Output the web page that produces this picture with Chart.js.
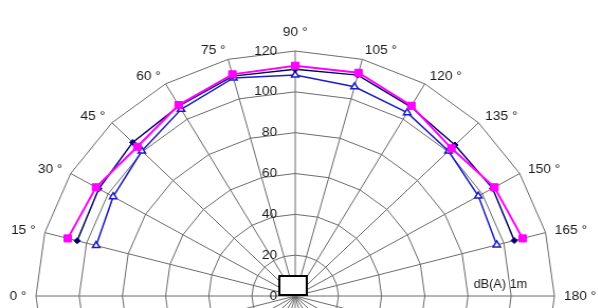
<!DOCTYPE html>
<html>
<head>
<meta charset="utf-8">
<script src="https://cdn.jsdelivr.net/npm/chart.js@4/dist/chart.umd.min.js"></script>
<style>
  html, body { margin: 0; padding: 0; background: #fff; overflow: hidden; width: 598px; height: 308px; }
  #wrap { position: absolute; left: 0; top: 0; transform: scaleX(1.058); transform-origin: 0 0; }
  #polar { position: absolute; left: 0; top: 0; }
</style>
</head>
<body>
<div id="wrap"><canvas id="polar" width="610" height="610"></canvas></div>
<script>
// angles of the spokes, every 15 degrees round the full circle
const angleLabels = ["0 °", "15 °", "30 °", "45 °", "60 °", "75 °", "90 °", "105 °", "120 °", "135 °", "150 °", "165 °",
    "180 °", "195 °", "210 °", "225 °", "240 °", "255 °", "270 °", "285 °", "300 °", "315 °", "330 °", "345 °"];
// measured angles 15..165
const measuredAngles = [15, 30, 45, 60, 75, 90, 105, 120, 135, 150, 165];
const magentaValues = [109, 106.5, 103.4, 108, 112.4, 112.8, 113.2, 107.6, 102.3, 106.5, 109];
const navyValues = [104.5, 105, 106.4, 107.5, 111.5, 111, 112, 107, 104.6, 105.5, 105];
const blueValues = [95.4, 97.3, 100.4, 105.6, 110.6, 108.2, 106.1, 103.7, 100.4, 97.9, 96.6];
const tickValues = [0, 20, 40, 60, 80, 100, 120];
const unitText = "dB(A) 1m";

// spread the measured values over the 24 spokes, gaps elsewhere
function toSpokes(values) {
    const out = angleLabels.map(() => null);
    measuredAngles.forEach((a, i) => { out[a / 15] = values[i]; });
    return out;
}

const FONT = '"Liberation Sans", Arial, sans-serif';
const TEXT = "#1a1a1a";

const polarDecor = {
    id: "polarDecor",
    afterDraw(chart) {
        const r = chart.scales.r;
        const ctx = chart.ctx;
        ctx.save();
        ctx.fillStyle = TEXT;

        // tick labels along the 90 degree spoke
        ctx.font = "13px " + FONT;
        ctx.textAlign = "right";
        ctx.textBaseline = "middle";
        const topIndex = angleLabels.indexOf("90 °");
        r.ticks.forEach(t => {
            const p = r.getPointPositionForValue(topIndex, t.value);
            ctx.fillText(String(t.value), p.x - 17, p.y);
        });

        // angle labels round the outside
        angleLabels.forEach((txt, i) => {
            const deg = Math.round(r.getIndexAngle(i) * 180 / Math.PI) % 360;
            const p = r.getPointPosition(i, r.drawingArea + (deg === 0 ? 12 : 9));
            ctx.textAlign = (deg === 0 || deg === 180) ? "center" : (deg < 180 ? "left" : "right");
            ctx.textBaseline = deg === 0 ? "bottom" : (deg === 180 ? "top" : "middle");
            ctx.fillText(txt, p.x, p.y);
        });

        // unit note
        ctx.font = "12px " + FONT;
        ctx.textAlign = "center";
        ctx.textBaseline = "middle";
        ctx.fillText(unitText, r.xCenter + 194, r.yCenter - 11);

        // source box at the centre
        ctx.fillStyle = "#fff";
        ctx.strokeStyle = "#000";
        ctx.lineWidth = 2;
        ctx.fillRect(r.xCenter - 15, r.yCenter - 20, 26, 19);
        ctx.strokeRect(r.xCenter - 15, r.yCenter - 20, 26, 19);
        ctx.restore();
    }
};

const canvas = document.getElementById("polar");
const chart = new Chart(canvas.getContext("2d"), {
    type: "radar",
    data: {
        labels: angleLabels,
        datasets: [
            {
                label: "magenta",
                data: toSpokes(magentaValues),
                borderColor: "#ff00ff",
                backgroundColor: "#ff00ff",
                borderWidth: 2,
                pointStyle: "rect",
                pointRadius: 5,
                pointBorderWidth: 1,
                fill: false
            },
            {
                label: "navy",
                data: toSpokes(navyValues),
                borderColor: "#000066",
                backgroundColor: "#000066",
                borderWidth: 1.5,
                pointStyle: "rectRot",
                pointRadius: 3,
                pointBorderWidth: 1,
                fill: false
            },
            {
                label: "blue",
                data: toSpokes(blueValues),
                borderColor: "#1c1cc4",
                backgroundColor: "#ffffff",
                pointBackgroundColor: "#ffffff",
                borderWidth: 1.5,
                pointStyle: "triangle",
                pointRadius: 4,
                pointBorderWidth: 1.5,
                fill: false
            }
        ]
    },
    options: {
        responsive: false,
        animation: false,
        layout: { padding: 60 },
        plugins: {
            legend: { display: false },
            tooltip: { enabled: false }
        },
        scales: {
            r: {
                startAngle: -90,
                min: 0,
                max: 120,
                afterBuildTicks: s => { s.ticks = tickValues.map(v => ({ value: v })); },
                ticks: { display: false },
                pointLabels: { display: false },
                grid: { color: "#6a6a6a", lineWidth: 1 },
                angleLines: { color: "#6a6a6a", lineWidth: 1 }
            }
        }
    },
    plugins: [polarDecor]
});

// put the pole where the picture has it (before the horizontal stretch)
const rs = chart.scales.r;
canvas.style.left = (278.8 - rs.xCenter) + "px";
canvas.style.top = (296 - rs.yCenter) + "px";
</script>
</body>
</html>
